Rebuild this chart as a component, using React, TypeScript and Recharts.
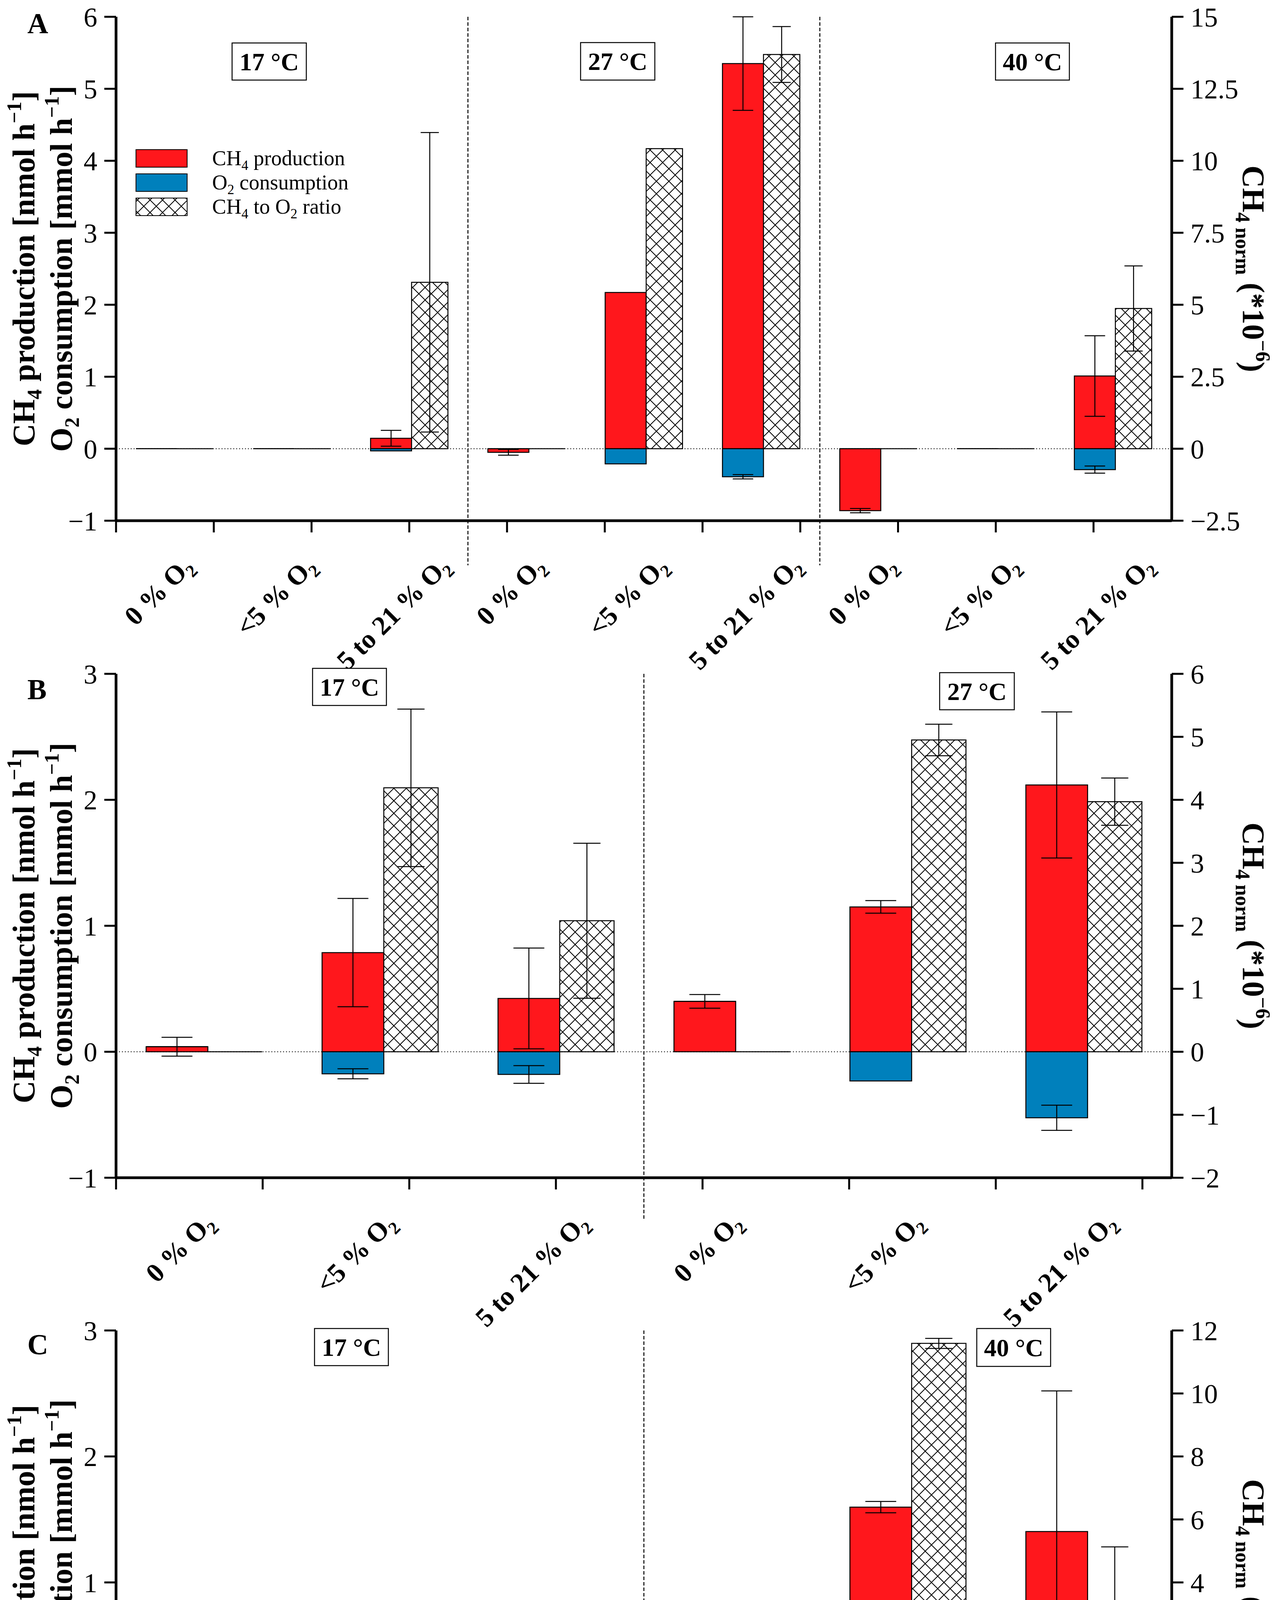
import React from 'react';
import { ComposedChart, Bar, XAxis, YAxis, ErrorBar, ReferenceLine } from 'recharts';

// ---------- data ----------
const catLabels = ['0 % O₂', '<5 % O₂', '5 to 21 % O₂'];

// Panel A: 17 °C, 27 °C, 40 °C
const keysA = ['A1', 'A2', 'A3', 'A4', 'A5', 'A6', 'A7', 'A8', 'A9'];
const ch4A = [0, 0, 0.145, -0.05, 2.17, 5.35, -0.86, 0, 1.01];
const ch4ErrA = [null, null, 0.11, 0.04, null, 0.65, 0.03, null, 0.56];
const o2A = [0, 0, -0.03, 0, -0.21, -0.39, 0, 0, -0.29];
const o2ErrA = [null, null, null, null, null, 0.03, null, null, 0.05];
const ratioA = [0, 0, 5.78, 0, 10.42, 13.69, 0, 0, 4.87];
const ratioErrA = [null, null, 5.2, null, null, 0.97, null, null, 1.48];

// Panel B: 17 °C, 27 °C
const keysB = ['B1', 'B2', 'B3', 'B4', 'B5', 'B6'];
const ch4B = [0.04, 0.787, 0.423, 0.4, 1.15, 2.118];
const ch4ErrB = [0.075, 0.43, 0.4, 0.054, 0.05, 0.58];
const o2B = [0, -0.175, -0.18, 0, -0.232, -0.524];
const o2ErrB = [null, 0.04, 0.07, null, null, 0.1];
const ratioB = [0, 4.19, 2.08, 0, 4.95, 3.97];
const ratioErrB = [null, 1.25, 1.23, null, 0.25, 0.375];

// Panel C: 17 °C, 40 °C
const keysC = ['C1', 'C2', 'C3', 'C4', 'C5', 'C6'];
const ch4C = [0.049, 0.023, 0.144, 0.262, 1.598, 1.404];
const ch4ErrC = [0.027, 0.011, 0.127, 0.095, 0.045, 1.116];
const o2C = [0, -0.125, -0.159, 0, -0.137, -0.425];
const o2ErrC = [null, 0.03, 0.053, null, 0.004, 0.25];
const ratioC = [0, 0.17, 0.85, 0, 11.59, 3.4];
const ratioErrC = [null, 0.07, 0.63, null, 0.16, 1.73];

const leftTicksA = [-1, 0, 1, 2, 3, 4, 5, 6];
const rightTicksA = [-2.5, 0, 2.5, 5, 7.5, 10, 12.5, 15];
const leftTicksBC = [-1, 0, 1, 2, 3];
const rightTicksB = [-2, -1, 0, 1, 2, 3, 4, 5, 6];
const rightTicksC = [-4, -2, 0, 2, 4, 6, 8, 10, 12];

function build(keys: string[], ch4: any[], ch4Err: any[], o2: any[], o2Err: any[], ratio: any[], ratioErr: any[]) {
  return keys.map((k, i) => ({
    key: k,
    ch4: ch4[i],
    ch4Err: ch4Err[i],
    o2: o2[i],
    o2Err: o2Err[i],
    ratio: ratio[i],
    ratioErr: ratioErr[i],
  }));
}

// ---------- layout / style ----------
const W = 3271;
const H = 5217;
const PL = 297;
const PR = 2999;
const PW = PR - PL;
const PH = 1290;
const MT = 43;
const CH = 1790;
const FONT = '"Liberation Serif", "Times New Roman", serif';
const RED = '#FF171C';
const BLUE = '#0080BC';
const XFS = 69;
const YFS = 70;

const CHAR_W: Record<string, number> = { ' ': 0.25, '%': 1.0, O: 0.778, t: 0.333, o: 0.5, '<': 0.57 };
function estWidth(s: string, fs: number) {
  let w = 0;
  for (const ch of s) {
    if (ch === '₂') w += 0.5 * 0.65;
    else if (/[0-9]/.test(ch)) w += 0.5;
    else w += CHAR_W[ch] ?? 0.5;
  }
  return w * fs;
}

function XTick(props: any) {
  const { x, y, n, labels } = props;
  const index = props.index ?? props.payload?.index ?? 0;
  const u = PW / n / 1.2;
  const start = 1.2 * index;
  const center = start + 0.6;
  const ticks: number[] = [];
  for (let k = Math.ceil(start - 1e-9); k < start + 1.2 - 1e-9; k++) ticks.push(k);
  const label: string = labels[index];
  const L = estWidth(label, XFS);
  const hh = 0.68 * XFS;
  const cx = x - 0.165 * u;
  const cy = y + 87 + 0.354 * (L + hh);
  const ax = cx + 0.354 * hh;
  const ay = cy + 0.354 * hh;
  const main = label.split('₂')[0];
  return (
    <g>
      {ticks.map((k) => (
        <line key={k} x1={x + (k - center) * u} x2={x + (k - center) * u} y1={y} y2={y + 30} stroke="#000" strokeWidth={5} />
      ))}
      <text
        x={ax}
        y={ay}
        transform={`rotate(-45 ${ax} ${ay})`}
        textAnchor="middle"
        fontSize={XFS}
        fontWeight="bold"
        fontFamily={FONT}
        fill="#000"
      >
        <tspan>{main}</tspan>
        <tspan fontSize={XFS * 0.65} dy={0.22 * XFS}>2</tspan>
      </text>
    </g>
  );
}

const barShape = (props: any) => {
  const { x, y, width, height, fill } = props;
  if (x == null || y == null || width == null || height == null) return <g />;
  const d = `M${x},${y}h${width}v${height}h${-width}Z`;
  return <path d={d} fill={fill} stroke="#000" strokeWidth={2.5} />;
};

const fmt = (v: number) => String(v).replace('-', '−');

type PanelProps = {
  top: number;
  data: any[];
  labels: string[];
  leftDomain: [number, number];
  leftTicks: number[];
  rightDomain: [number, number];
  rightTicks: number[];
  seps: string[];
  sepBottom: number;
};

function Panel({ top, data, labels, leftDomain, leftTicks, rightDomain, rightTicks, seps, sepBottom }: PanelProps) {
  const n = data.length;
  const u = PW / n / 1.2;
  const redW = Math.round(0.42 * u);
  const hatW = Math.round(0.37 * u);
  const axisLine = { stroke: '#000', strokeWidth: 7 };
  const tickLine = { stroke: '#000', strokeWidth: 5 };
  const tickStyle = { fill: '#000', fontSize: YFS, fontFamily: FONT };
  return (
    <div style={{ position: 'absolute', left: 0, top: top - MT, width: W, height: CH }}>
      <ComposedChart
        width={W}
        height={CH}
        data={data}
        margin={{ top: MT, right: 0, bottom: 0, left: 0 }}
        stackOffset="sign"
        barGap={0}
      >
        <XAxis
          dataKey="key"
          type="category"
          height={CH - MT - PH}
          interval={0}
          axisLine={axisLine}
          tickLine={false}
          tickSize={0}
          tickMargin={0}
          tick={(p: any) => <XTick {...p} n={n} labels={labels} />}
        />
        <YAxis
          yAxisId="left"
          orientation="left"
          width={PL}
          domain={leftDomain}
          ticks={leftTicks}
          allowDataOverflow
          interval={0}
          axisLine={axisLine}
          tickLine={tickLine}
          tickSize={30}
          tickMargin={18}
          tick={tickStyle}
          tickFormatter={fmt}
        />
        <YAxis
          yAxisId="right"
          orientation="right"
          width={W - PR}
          domain={rightDomain}
          ticks={rightTicks}
          allowDataOverflow
          interval={0}
          axisLine={axisLine}
          tickLine={tickLine}
          tickSize={30}
          tickMargin={18}
          tick={tickStyle}
          tickFormatter={fmt}
        />
        <ReferenceLine yAxisId="left" y={0} stroke="#000" strokeWidth={2} strokeDasharray="2.5 5" />
        {seps.map((k) => (
          <ReferenceLine
            key={k}
            yAxisId="left"
            segment={[
              { x: k, y: leftDomain[1] },
              { x: k, y: sepBottom },
            ]}
            position="start"
            ifOverflow="visible"
            stroke="#000"
            strokeWidth={2.5}
            strokeDasharray="9 5"
          />
        ))}
        <Bar yAxisId="left" dataKey="ch4" stackId="s" fill={RED} barSize={redW} shape={barShape} isAnimationActive={false}>
          <ErrorBar dataKey="ch4Err" width={redW / 4} stroke="#000" strokeWidth={2.5} direction="y" />
        </Bar>
        <Bar yAxisId="left" dataKey="o2" stackId="s" fill={BLUE} barSize={redW} shape={barShape} isAnimationActive={false}>
          <ErrorBar dataKey="o2Err" width={redW / 4} stroke="#000" strokeWidth={2.5} direction="y" />
        </Bar>
        <Bar yAxisId="right" dataKey="ratio" fill="url(#hatch)" barSize={hatW} shape={barShape} isAnimationActive={false}>
          <ErrorBar dataKey="ratioErr" width={hatW / 4} stroke="#000" strokeWidth={2.5} direction="y" />
        </Bar>
      </ComposedChart>
    </div>
  );
}

type Part = [string, 'n' | 'sub' | 'sup'];
function rich(parts: Part[], fs: number) {
  let cur = 0;
  return parts.map(([t, kind], i) => {
    const target = kind === 'sub' ? 0.22 * fs : kind === 'sup' ? -0.42 * fs : 0;
    const dy = target - cur;
    cur = target;
    return (
      <tspan key={i} dy={dy === 0 ? undefined : dy} fontSize={kind === 'n' ? undefined : fs * 0.65}>
        {t}
      </tspan>
    );
  });
}

const leftTitle1: Part[] = [['CH', 'n'], ['4', 'sub'], [' production [nmol h', 'n'], ['−1', 'sup'], [']', 'n']];
const leftTitle2: Part[] = [['O', 'n'], ['2', 'sub'], [' consumption [mmol h', 'n'], ['−1', 'sup'], [']', 'n']];
const rightTitle: Part[] = [['CH', 'n'], ['4 norm', 'sub'], [' (*10', 'n'], ['−6', 'sup'], [')', 'n']];
const xTitle: Part[] = [['O', 'n'], ['2', 'sub'], [' levels', 'n']];

const TFS = 80;

function PanelText({ top, letter, letterY }: { top: number; letter: string; letterY: number }) {
  const yc = top + PH / 2;
  return (
    <g fontFamily={FONT} fill="#000" fontWeight="bold">
      <text x={70} y={letterY} fontSize={74}>
        {letter}
      </text>
      <text x={88} y={yc} transform={`rotate(-90 88 ${yc})`} textAnchor="middle" fontSize={TFS}>
        {rich(leftTitle1, TFS)}
      </text>
      <text x={184} y={yc} transform={`rotate(-90 184 ${yc})`} textAnchor="middle" fontSize={TFS}>
        {rich(leftTitle2, TFS)}
      </text>
      <text x={3181} y={yc} transform={`rotate(90 3181 ${yc})`} textAnchor="middle" fontSize={TFS}>
        {rich(rightTitle, TFS)}
      </text>
    </g>
  );
}

function TempBox({ x, y, w, h, label }: { x: number; y: number; w: number; h: number; label: string }) {
  return (
    <g>
      <rect x={x} y={y} width={w} height={h} fill="#fff" stroke="#000" strokeWidth={2.5} />
      <text
        x={x + w / 2}
        y={y + h / 2 + 22}
        textAnchor="middle"
        fontSize={64}
        fontWeight="bold"
        fontFamily={FONT}
        fill="#000"
      >
        {label}
      </text>
    </g>
  );
}

const legendItems: { fill: string; parts: Part[] }[] = [
  { fill: RED, parts: [['CH', 'n'], ['4', 'sub'], [' production', 'n']] },
  { fill: BLUE, parts: [['O', 'n'], ['2', 'sub'], [' consumption', 'n']] },
  { fill: 'url(#hatch)', parts: [['CH', 'n'], ['4', 'sub'], [' to O', 'n'], ['2', 'sub'], [' ratio', 'n']] },
];

function Overlay() {
  return (
    <svg width={W} height={H} style={{ position: 'absolute', left: 0, top: 0, pointerEvents: 'none' }}>
      <defs>
        <pattern id="hatch" patternUnits="userSpaceOnUse" width="32" height="32">
          <rect width="32" height="32" fill="#fff" />
          <path d="M0,0L32,32M32,0L0,32" stroke="#000" strokeWidth="2" />
        </pattern>
      </defs>
      <PanelText top={43} letter="A" letterY={85} />
      <PanelText top={1725} letter="B" letterY={1790} />
      <PanelText top={3406} letter="C" letterY={3467} />

      <TempBox x={594} y={110} w={190} h={95} label="17 °C" />
      <TempBox x={1486} y={109} w={190} h={96} label="27 °C" />
      <TempBox x={2548} y={110} w={189} h={95} label="40 °C" />
      <TempBox x={800} y={1711} w={189} h={95} label="17 °C" />
      <TempBox x={2405} y={1722} w={191} h={95} label="27 °C" />
      <TempBox x={805} y={3401} w={189} h={95} label="17 °C" />
      <TempBox x={2500} y={3401} w={189} h={97} label="40 °C" />

      {legendItems.map((it, i) => {
        const cy = 405 + i * 62;
        return (
          <g key={i}>
            <rect x={348} y={cy - 22} width={131} height={45} fill={it.fill} stroke="#000" strokeWidth={2} />
            <text x={543} y={cy + 18} fontSize={54} fontFamily={FONT} fill="#000">
              {rich(it.parts, 54)}
            </text>
          </g>
        );
      })}

      <text x={1648} y={5190} textAnchor="middle" fontSize={80} fontWeight="bold" fontFamily={FONT} fill="#000">
        {rich(xTitle, 80)}
      </text>
    </svg>
  );
}

const dataA = build(keysA, ch4A, ch4ErrA, o2A, o2ErrA, ratioA, ratioErrA);
const dataB = build(keysB, ch4B, ch4ErrB, o2B, o2ErrB, ratioB, ratioErrB);
const dataC = build(keysC, ch4C, ch4ErrC, o2C, o2ErrC, ratioC, ratioErrC);
const labelsA = [...catLabels, ...catLabels, ...catLabels];
const labelsBC = [...catLabels, ...catLabels];

export default function App() {
  return (
    <div style={{ position: 'absolute', left: 0, top: 0, width: W, height: H, background: '#fff' }}>
      <Panel
        top={43}
        data={dataA}
        labels={labelsA}
        leftDomain={[-1, 6]}
        leftTicks={leftTicksA}
        rightDomain={[-2.5, 15]}
        rightTicks={rightTicksA}
        seps={['A4', 'A7']}
        sepBottom={-1.62}
      />
      <Panel
        top={1725}
        data={dataB}
        labels={labelsBC}
        leftDomain={[-1, 3]}
        leftTicks={leftTicksBC}
        rightDomain={[-2, 6]}
        rightTicks={rightTicksB}
        seps={['B4']}
        sepBottom={-1.34}
      />
      <Panel
        top={3406}
        data={dataC}
        labels={labelsBC}
        leftDomain={[-1, 3]}
        leftTicks={leftTicksBC}
        rightDomain={[-4, 12]}
        rightTicks={rightTicksC}
        seps={['C4']}
        sepBottom={-1.35}
      />
      <Overlay />
    </div>
  );
}
